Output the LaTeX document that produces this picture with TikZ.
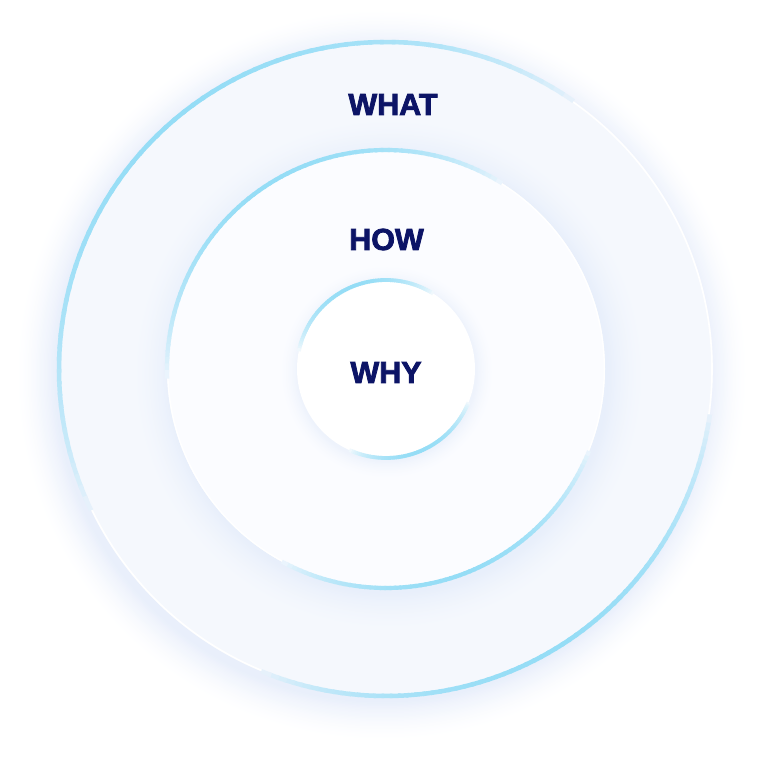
\documentclass[tikz,border=0pt]{standalone}
\usepackage{fontspec}
\setmainfont{Liberation Sans}
\newfontfamily\heavyfont[FakeBold=2.5]{Liberation Sans}
\definecolor{arcc}{HTML}{95DDF6}
\definecolor{navy}{HTML}{0C1466}
\definecolor{glowo}{HTML}{E9EFFB}
\definecolor{glowm}{HTML}{E8EFFB}
\definecolor{glowi}{HTML}{EEF3FC}
\definecolor{ringfill}{HTML}{F5F8FD}
\definecolor{midfill}{HTML}{FBFCFF}
\colorlet{arcbgo}{glowo!50!ringfill}
\colorlet{arcbgm}{glowm!40!midfill}
\colorlet{arcbgi}{glowi!30!white}
% glow: center x, center y, inner radius, width, colour, background
\newcommand{\softglow}[6]{%
 \foreach \k in {30,29,...,0}{%
  \pgfmathsetmacro{\gp}{100*(1-\k/30)^1.6}%
  \fill[color=#5!\gp!#6] (#1,#2) circle ({#3+#4*\k/30});
 }}
% arc: radius, start, end, width, background colour
\newcommand{\fadearc}[5]{%
 \foreach \k in {0,...,71}{%
  \pgfmathsetmacro{\angA}{#2+(#3-#2)*\k/72}%
  \pgfmathsetmacro{\angB}{#2+(#3-#2)*(\k+1.3)/72}%
  \pgfmathsetmacro{\pc}{100*sin(180*(\k+0.5)/72)^0.6}%
  \draw[color=arcc!\pc!#5, line width=#4] (386,404) ++(\angA:#1) arc[start angle=\angA, end angle=\angB, radius=#1];
 }}
\tikzset{lbl/.style={text=navy, font=\heavyfont\bfseries\fontsize{30.5}{30.5}\selectfont, anchor=base, inner sep=0pt}}
\begin{document}
\begin{tikzpicture}[x=1pt,y=1pt]
\useasboundingbox (0,0) rectangle (772,773);
\fill[white] (0,0) rectangle (772,773);
% outer glow
\softglow{382}{398}{327}{40}{glowo}{white}
\fill[ringfill] (386,404) circle (327);
\draw[white, line width=1.6pt] (386,404) circle (326);
% middle glow
\softglow{389}{399}{219}{38}{glowm}{ringfill}
\fill[midfill] (386,404) circle (219);
\draw[white, line width=1.4pt] (386,404) circle (218.3);
% inner glow
\softglow{387}{401}{89}{18}{glowi}{midfill}
\fill[white] (386,404) circle (89);
% arcs
\fadearc{327}{55}{205}{4.5pt}{arcbgo}
\fadearc{327}{-8}{-112}{4.5pt}{arcbgo}
\fadearc{219}{58}{182}{4.2pt}{arcbgm}
\fadearc{219}{-22}{-118}{4.2pt}{arcbgm}
\fadearc{89}{58}{168}{3.8pt}{arcbgi}
\fadearc{89}{-22}{-114}{3.8pt}{arcbgi}
% labels
\node[lbl] (what) at (393,658) {WHAT};
\node[lbl] (how) at (386.5,523) {HOW};
\node[lbl] (why) at (386,390) {WHY};
\end{tikzpicture}
\end{document}
